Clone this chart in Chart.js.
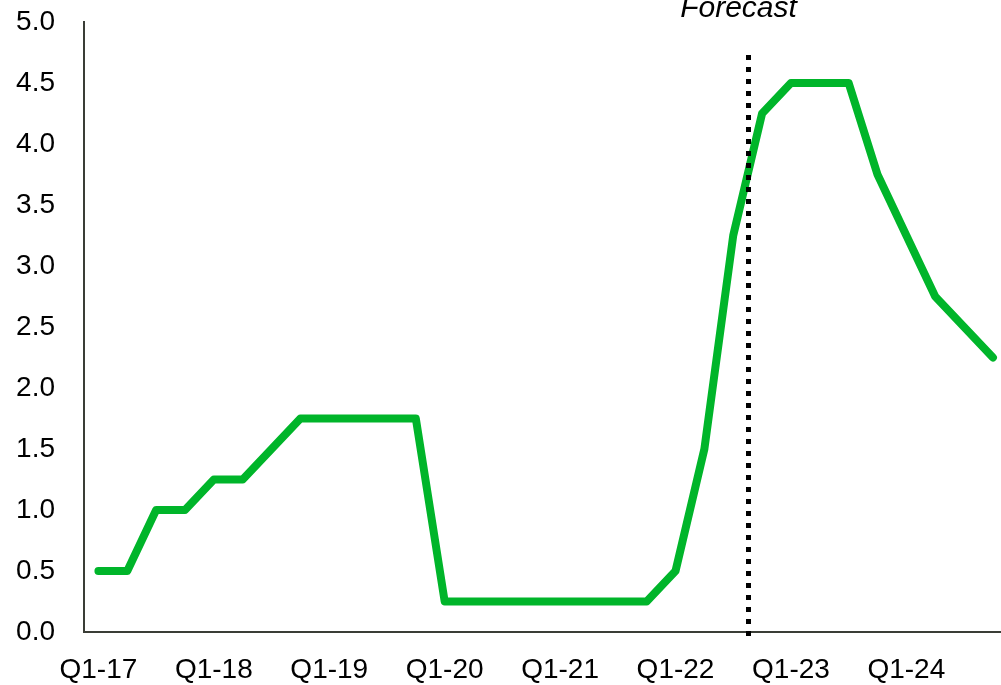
<!DOCTYPE html>
<html>
<head>
<meta charset="utf-8">
<script src="https://cdn.jsdelivr.net/npm/chart.js@4"></script>
<style>
  html, body { margin: 0; padding: 0; background: #fff; }
  #wrap { width: 1001px; height: 685px; position: relative; }
</style>
</head>
<body>
<div id="wrap"><canvas id="chart"></canvas></div>
<script>
// --- data ---
const quarters = [
    'Q1-17', 'Q2-17', 'Q3-17', 'Q4-17',
    'Q1-18', 'Q2-18', 'Q3-18', 'Q4-18',
    'Q1-19', 'Q2-19', 'Q3-19', 'Q4-19',
    'Q1-20', 'Q2-20', 'Q3-20', 'Q4-20',
    'Q1-21', 'Q2-21', 'Q3-21', 'Q4-21',
    'Q1-22', 'Q2-22', 'Q3-22', 'Q4-22',
    'Q1-23', 'Q2-23', 'Q3-23', 'Q4-23',
    'Q1-24', 'Q2-24', 'Q3-24', 'Q4-24'
];
const rate = [
    0.5, 0.5, 1.0, 1.0,
    1.25, 1.25, 1.5, 1.75,
    1.75, 1.75, 1.75, 1.75,
    0.25, 0.25, 0.25, 0.25,
    0.25, 0.25, 0.25, 0.25,
    0.5, 1.5, 3.25, 4.25,
    4.5, 4.5, 4.5, 3.75,
    3.25, 2.75, 2.5, 2.25
];
const yTicks = [0, 0.5, 1.0, 1.5, 2.0, 2.5, 3.0, 3.5, 4.0, 4.5, 5.0];
const forecastAt = 22.5;      // between Q3-22 and Q4-22
const forecastTop = 4.73;     // top of the dotted marker, in rate units
const forecastLabel = 'Forecast';

const FONT = '"Liberation Sans", Arial, sans-serif';

// dotted "Forecast" divider + its caption
const forecastMarker = {
    id: 'forecastMarker',
    afterDatasetsDraw(chart) {
        const { ctx, chartArea, scales: { x, y } } = chart;
        const px = Math.round(x.getPixelForValue(forecastAt)) + 0.5;
        ctx.save();
        ctx.strokeStyle = '#000';
        ctx.lineWidth = 5;
        ctx.setLineDash([5, 7]);
        ctx.beginPath();
        ctx.moveTo(px, y.getPixelForValue(forecastTop));
        ctx.lineTo(px, chartArea.bottom + 9);
        ctx.stroke();

        ctx.setLineDash([]);
        ctx.fillStyle = '#000';
        ctx.font = 'italic 30px ' + FONT;
        ctx.textAlign = 'center';
        ctx.textBaseline = 'alphabetic';
        ctx.fillText(forecastLabel, px - 10, 17);
        ctx.restore();
    }
};

new Chart(document.getElementById('chart'), {
    type: 'line',
    data: {
        datasets: [{
            label: 'Rate',
            data: quarters.map((q, i) => ({ x: i, y: rate[i] })),
            borderColor: '#00b52a',
            borderWidth: 8,
            borderCapStyle: 'round',
            borderJoinStyle: 'round',
            pointRadius: 0,
            tension: 0,
            fill: false
        }]
    },
    options: {
        responsive: true,
        maintainAspectRatio: false,
        animation: false,
        layout: { padding: 0 },
        plugins: {
            legend: { display: false },
            tooltip: { enabled: false }
        },
        scales: {
            x: {
                type: 'linear',
                min: -0.5,
                max: 31.28,
                grid: { display: false, drawTicks: false },
                border: { display: true, color: '#3a3d36', width: 2 },
                afterBuildTicks: (scale) => {
                    scale.ticks = quarters
                        .map((q, i) => ({ value: i, q }))
                        .filter(t => t.q.startsWith('Q1'))
                        .map(t => ({ value: t.value }));
                },
                afterFit: (scale) => {
                    scale.height = 53;
                    scale.paddingLeft = 0;
                    scale.paddingRight = 0;
                },
                ticks: {
                    autoSkip: false,
                    maxRotation: 0,
                    padding: 21,
                    color: '#000',
                    font: { family: FONT, size: 28 },
                    callback: (value) => quarters[value]
                }
            },
            y: {
                min: 0,
                max: 5,
                grid: { display: false, drawTicks: false },
                border: { display: true, color: '#3a3d36', width: 2 },
                afterBuildTicks: (scale) => {
                    scale.ticks = yTicks.map(v => ({ value: v }));
                },
                afterFit: (scale) => {
                    scale.width = 84;
                    scale.paddingTop = 22;
                    scale.paddingBottom = 0;
                },
                ticks: {
                    padding: 29,
                    color: '#000',
                    font: { family: FONT, size: 28 },
                    callback: (value) => value.toFixed(1)
                }
            }
        }
    },
    plugins: [forecastMarker]
});
</script>
</body>
</html>
